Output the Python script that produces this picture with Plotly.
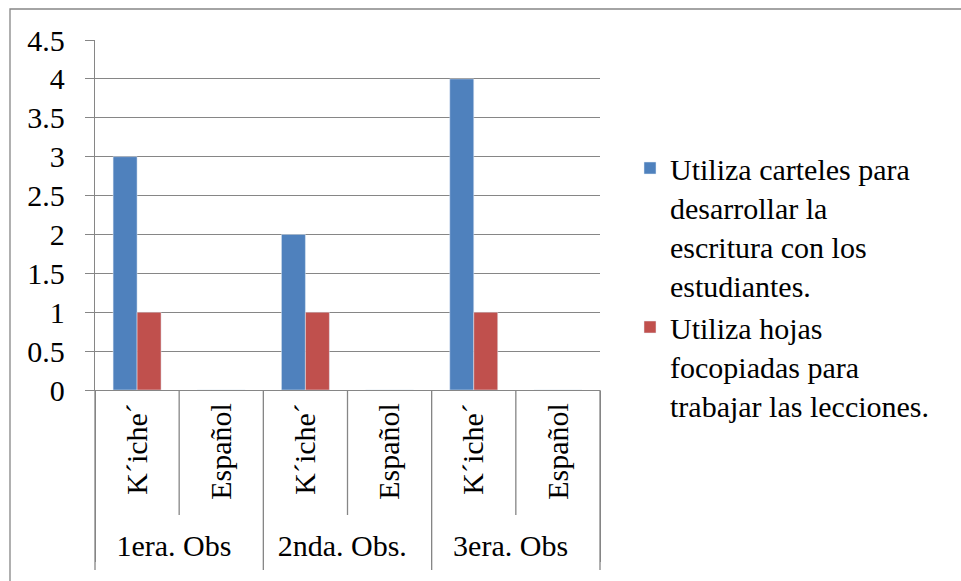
import plotly.graph_objects as go

# Observations (outer level) and language (inner level) for each bar position
observaciones = ["1era. Obs", "1era. Obs", "2nda. Obs.", "2nda. Obs.", "3era. Obs", "3era. Obs"]
idiomas = ["K´iche´", "Español", "K´iche´", "Español", "K´iche´", "Español"]

carteles = [3, 0, 2, 0, 4, 0]
hojas = [1, 0, 1, 0, 1, 0]

serie_carteles = "Utiliza carteles para<br>desarrollar la<br>escritura con los<br>estudiantes."
serie_hojas = "Utiliza hojas<br>focopiadas para<br>trabajar las lecciones."

y_ticks = [0, 0.5, 1, 1.5, 2, 2.5, 3, 3.5, 4, 4.5]

FONT = "'Times New Roman', 'Liberation Serif', serif"
GRAY = "#868686"

fig = go.Figure()
fig.add_trace(go.Bar(x=[observaciones, idiomas], y=carteles, name=serie_carteles,
                     marker_color="#4F81BD", legendgroup="a"))
fig.add_trace(go.Bar(x=[observaciones, idiomas], y=hojas, name=serie_hojas,
                     marker_color="#C0504D", legendgroup="b"))

W, H = 961, 581
L, R, T, B = 95, 361, 40, 191
pw, ph = W - L - R, H - T - B


def px_x(p):
    return (p - L) / pw


def px_y(p):
    return (H - B - p) / ph


shapes = []
# outer chart frame (runs off the right and bottom edges)
shapes.append(dict(type="rect", xref="paper", yref="paper",
                   x0=px_x(10), x1=px_x(1000), y0=px_y(9), y1=px_y(620),
                   line=dict(color=GRAY, width=1.3), fillcolor="rgba(0,0,0,0)", layer="below"))
n = len(idiomas)
# short dividers between the inner category labels
for i in range(0, n, 2):
    xf = (i + 1) / n
    shapes.append(dict(type="line", xref="paper", yref="paper",
                       x0=xf, x1=xf, y0=0, y1=px_y(515),
                       line=dict(color=GRAY, width=1.3)))
# full-height dividers at the observation group edges
for i in range(0, n + 1, 2):
    xf = i / n
    shapes.append(dict(type="line", xref="paper", yref="paper",
                       x0=xf, x1=xf, y0=0, y1=px_y(570),
                       line=dict(color=GRAY, width=1.3)))

fig.update_layout(
    width=W, height=H,
    margin=dict(l=L, r=R, t=T, b=B),
    paper_bgcolor="white", plot_bgcolor="white",
    font=dict(family=FONT, size=30, color="black"),
    barmode="group", bargap=0.43, bargroupgap=0,
    showlegend=True,
    legend=dict(x=px_x(630), xanchor="left", y=px_y(142), yanchor="top",
                valign="top", tracegroupgap=0, traceorder="grouped",
                font=dict(family=FONT, size=30, color="black"),
                bgcolor="rgba(0,0,0,0)"),
    shapes=shapes,
)

fig.update_xaxes(
    type="multicategory", tickangle=-90,
    showline=True, linecolor=GRAY, linewidth=1.3,
    showgrid=False, ticks="",
    showdividers=True, dividercolor=GRAY, dividerwidth=1.3,
    tickfont=dict(family=FONT, size=30, color="black"),
)
fig.update_yaxes(
    range=[0, 4.5], tickvals=y_ticks, ticktext=[f"{v:g}" for v in y_ticks],
    showline=True, linecolor=GRAY, linewidth=1.3,
    showgrid=True, gridcolor=GRAY, gridwidth=1.3,
    ticks="outside", ticklen=9, tickcolor=GRAY, tickwidth=1.3,
    ticklabelstandoff=14, zeroline=False,
    tickfont=dict(family=FONT, size=30, color="black"),
)

fig.write_html("out.html")
